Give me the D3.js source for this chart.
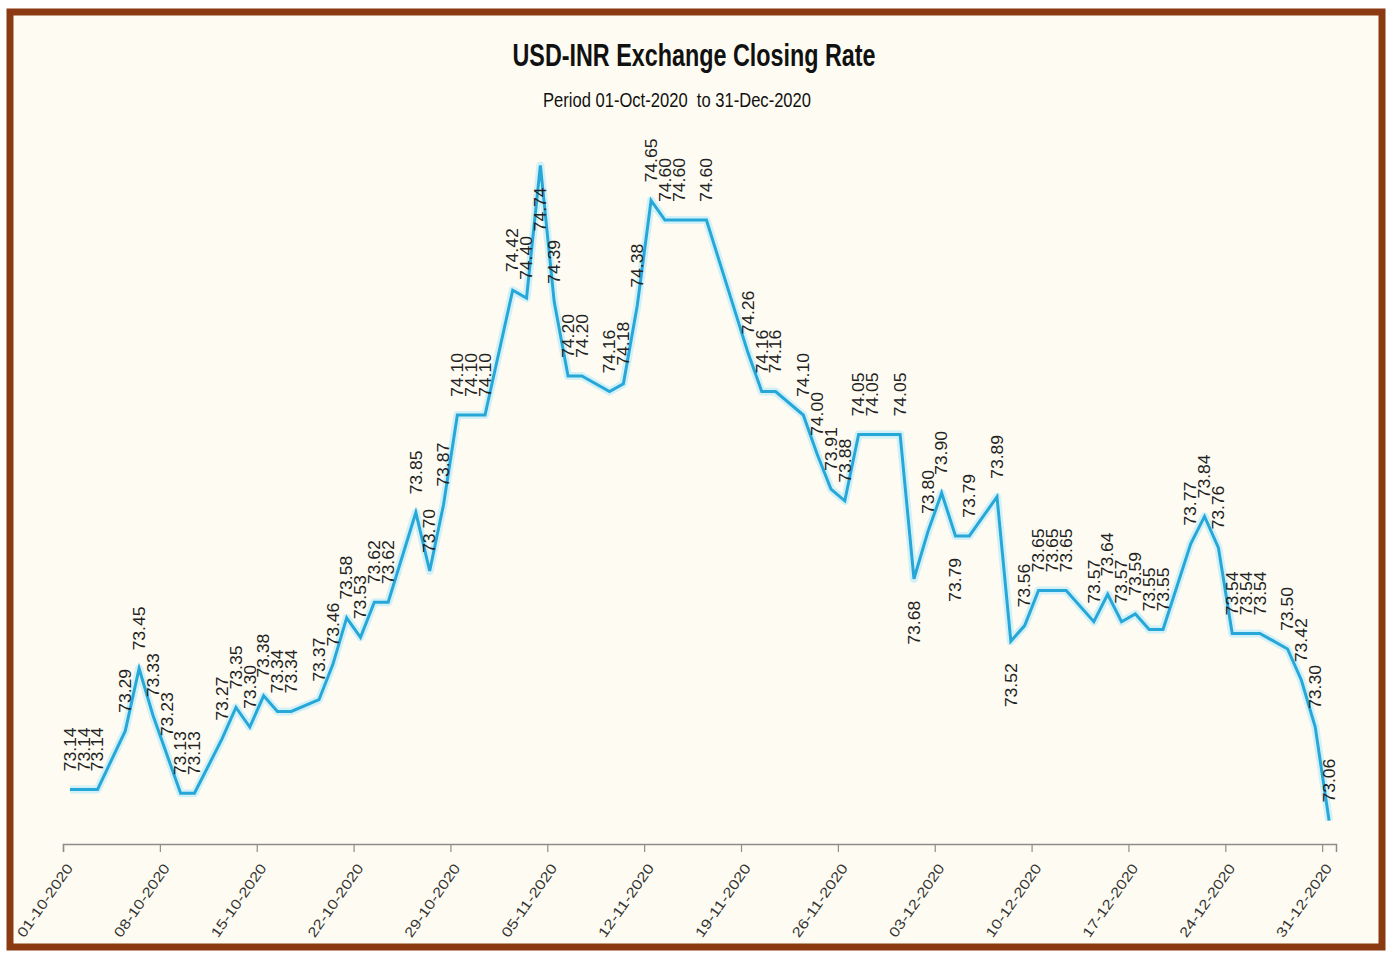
<!DOCTYPE html>
<html>
<head>
<meta charset="utf-8">
<script src="https://cdn.jsdelivr.net/npm/d3@7"></script>
<style>
  body { margin: 0; background: #fff; }
  svg { display: block; }
</style>
</head>
<body>
<script>
// closing dates (dd-mm-yyyy) and the USD-INR closing rate for each
const dates = [
  '01-10-2020','02-10-2020','03-10-2020','05-10-2020','06-10-2020','07-10-2020','08-10-2020','09-10-2020','10-10-2020',
  '12-10-2020','13-10-2020','14-10-2020','15-10-2020','16-10-2020','17-10-2020',
  '19-10-2020','20-10-2020','21-10-2020','22-10-2020','23-10-2020','24-10-2020',
  '26-10-2020','27-10-2020','28-10-2020','29-10-2020','30-10-2020','31-10-2020',
  '02-11-2020','03-11-2020','04-11-2020','05-11-2020','06-11-2020','07-11-2020',
  '09-11-2020','10-11-2020','11-11-2020','12-11-2020','13-11-2020','14-11-2020',
  '16-11-2020','19-11-2020','20-11-2020','21-11-2020',
  '23-11-2020','24-11-2020','25-11-2020','26-11-2020','27-11-2020','28-11-2020',
  '30-11-2020','01-12-2020','02-12-2020','03-12-2020','04-12-2020','05-12-2020',
  '07-12-2020','08-12-2020','09-12-2020','10-12-2020','11-12-2020','12-12-2020',
  '14-12-2020','15-12-2020','16-12-2020','17-12-2020','18-12-2020','19-12-2020',
  '21-12-2020','22-12-2020','23-12-2020','24-12-2020','25-12-2020','26-12-2020',
  '28-12-2020','29-12-2020','30-12-2020','31-12-2020'
];
const rates = [
  73.14, 73.14, 73.14, 73.29, 73.45, 73.33, 73.23, 73.13, 73.13,
  73.27, 73.35, 73.30, 73.38, 73.34, 73.34,
  73.37, 73.46, 73.58, 73.53, 73.62, 73.62,
  73.85, 73.70, 73.87, 74.10, 74.10, 74.10,
  74.42, 74.40, 74.74, 74.39, 74.20, 74.20,
  74.16, 74.18, 74.38, 74.65, 74.60, 74.60,
  74.60, 74.26, 74.16, 74.16,
  74.10, 74.00, 73.91, 73.88, 74.05, 74.05,
  74.05, 73.68, 73.80, 73.90, 73.79, 73.79,
  73.89, 73.52, 73.56, 73.65, 73.65, 73.65,
  73.57, 73.64, 73.57, 73.59, 73.55, 73.55,
  73.77, 73.84, 73.76, 73.54, 73.54, 73.54,
  73.50, 73.42, 73.30, 73.06
];
const title = 'USD-INR Exchange Closing Rate';
const subtitle = 'Period 01-Oct-2020  to 31-Dec-2020';
const axisStart = '01-10-2020';
const axisEnd = '01-01-2021';
const rateRange = [73, 75];
// labels Excel dropped under the point instead of above
const labelsBelow = ['04-11-2020', '01-12-2020', '04-12-2020', '08-12-2020'];

const W = 1394, H = 953;
const parseDate = d3.utcParse('%d-%m-%Y');
const fmtTick = d3.utcFormat('%d-%m-%Y');

const data = dates.map((d, i) => ({ key: d, date: parseDate(d), rate: rates[i] }));

const x = d3.scaleUtc().domain([parseDate(axisStart), parseDate(axisEnd)]).range([63, 1336]);
const y = d3.scaleLinear().domain(rateRange).range([844, 64]);

// points sit in the middle of their day, like an Excel date axis
const px = d => x(d3.utcHour.offset(d.date, 12));

const svg = d3.select('body').append('svg')
  .attr('width', W)
  .attr('height', H);

// frame
svg.append('rect')
  .attr('x', 10).attr('y', 12)
  .attr('width', 1372).attr('height', 935)
  .attr('fill', '#fefcf2')
  .attr('stroke', '#8b3a12')
  .attr('stroke-width', 7);

// titles
svg.append('text')
  .attr('x', 694).attr('y', 66)
  .attr('text-anchor', 'middle')
  .attr('textLength', 363).attr('lengthAdjust', 'spacingAndGlyphs')
  .style('font-family', 'Liberation Sans, Arial, sans-serif')
  .style('font-weight', 'bold')
  .style('font-size', '32px')
  .style('fill', '#111')
  .text(title);

svg.append('text')
  .attr('x', 677).attr('y', 107)
  .attr('text-anchor', 'middle')
  .attr('textLength', 268).attr('lengthAdjust', 'spacingAndGlyphs')
  .style('font-family', 'Liberation Sans, Arial, sans-serif')
  .style('font-size', '20px')
  .style('white-space', 'pre')
  .style('fill', '#111')
  .text(subtitle);

// x axis, a tick every 7 days
const tickDates = d3.utcDay.range(parseDate(axisStart), parseDate(axisEnd), 7);
const xAxis = svg.append('g')
  .attr('transform', 'translate(0,844)')
  .call(d3.axisBottom(x).tickValues(tickDates).tickSizeOuter(0).tickSize(8).tickFormat(fmtTick));

xAxis.select('.domain').attr('stroke', '#8c8c8c').attr('stroke-width', 1.5);
xAxis.selectAll('.tick line').attr('stroke', '#8c8c8c').attr('stroke-width', 1.2);
xAxis.selectAll('.tick text')
  .attr('text-anchor', 'end')
  .attr('x', 0).attr('y', 0).attr('dy', 0)
  .attr('transform', 'translate(10,24) rotate(-55)')
  .attr('textLength', 86).attr('lengthAdjust', 'spacingAndGlyphs')
  .style('font-family', 'Liberation Sans, Arial, sans-serif')
  .style('font-size', '14px')
  .style('fill', '#333');

// the line, with a soft halo under it
const line = d3.line().x(px).y(d => y(d.rate));

svg.append('path').datum(data)
  .attr('d', line)
  .attr('fill', 'none')
  .attr('stroke', '#c6ecf8')
  .attr('stroke-width', 8)
  .attr('stroke-linejoin', 'round')
  .attr('opacity', 0.8);

svg.append('path').datum(data)
  .attr('d', line)
  .attr('fill', 'none')
  .attr('stroke', '#27a7d8')
  .attr('stroke-width', 3)
  .attr('stroke-linejoin', 'miter');

// value labels, rotated
svg.append('g').selectAll('text')
  .data(data)
  .join('text')
  .attr('transform', d => {
    const below = labelsBelow.includes(d.key);
    return 'translate(' + px(d) + ',' + (y(d.rate) + (below ? 22 : -18)) + ') rotate(-90)';
  })
  .attr('text-anchor', d => labelsBelow.includes(d.key) ? 'end' : 'start')
  .attr('dy', '0.36em')
  .attr('textLength', 44).attr('lengthAdjust', 'spacingAndGlyphs')
  .style('font-family', 'Liberation Sans, Arial, sans-serif')
  .style('font-size', '16px')
  .style('fill', '#222')
  .text(d => d.rate.toFixed(2));
</script>
</body>
</html>
